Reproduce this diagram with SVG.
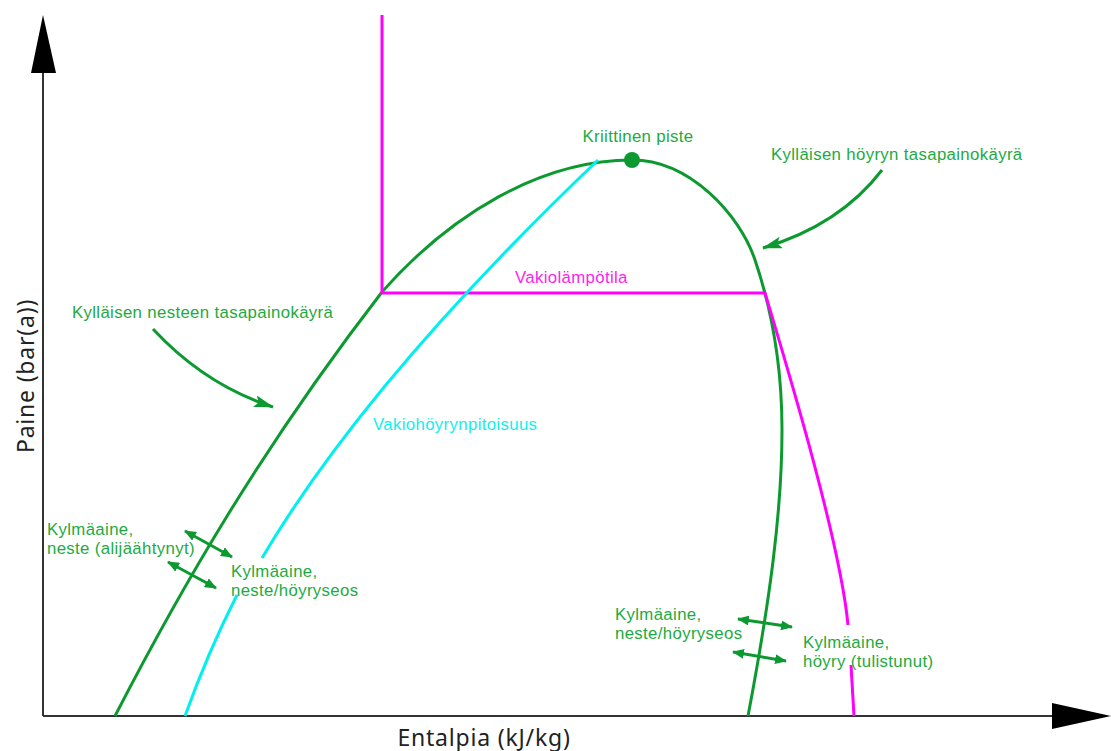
<svg xmlns="http://www.w3.org/2000/svg" width="1111" height="751" viewBox="0 0 1111 751">
<style>
.g{fill:none;stroke:#0c9a30;stroke-width:3}
.m{fill:none;stroke:#ff00ff;stroke-width:3}
.c{fill:none;stroke:#00f0f0;stroke-width:3}
.ax{fill:none;stroke:#333;stroke-width:2}
.t{font-family:"Liberation Sans",Arial,sans-serif;font-size:16.8px;letter-spacing:0.35px}
.tg{fill:#1daa40}
.tm{fill:#ff22ee}
.tc{fill:#11eeee}
.axl{font-family:"Noto Sans","Open Sans",sans-serif;font-size:23px;fill:#222;letter-spacing:0.8px}
</style>
<defs>
<marker id="ah" markerUnits="userSpaceOnUse" viewBox="0 0 12 10" refX="11" refY="5" markerWidth="12" markerHeight="10" orient="auto-start-reverse">
<path d="M0,0 L12,5 L0,10 Z" fill="#0c9a30"/>
</marker>
<marker id="ahl" markerUnits="userSpaceOnUse" viewBox="0 0 20 12" refX="19" refY="6" markerWidth="20" markerHeight="12" orient="auto">
<path d="M0,0 L20,6 L0,12 L4,6 Z" fill="#0c9a30"/>
</marker>
</defs>
<rect width="1111" height="751" fill="#fff"/>
<g id="axes">
<line class="ax" x1="43" y1="716" x2="43" y2="72"/>
<path d="M43,15 L56,73 L31,73 Z" fill="#000"/>
<line class="ax" x1="43" y1="716" x2="1053" y2="716"/>
<path d="M1111,716 L1052,703 L1052,729 Z" fill="#000"/>
<text class="axl" x="484" y="746" text-anchor="middle">Entalpia (kJ/kg)</text>
<text class="axl" transform="translate(34,376) rotate(-90)" text-anchor="middle">Paine (bar(a))</text>
</g>
<g id="connectors">
<path id="sat-liquid" class="g" d="M115,716 C180,590 260,450 382,292 C450,215 540,160 632,160"/>
<path id="sat-vapor" class="g" d="M632,160 C690,160 740,215 755,260 C772,310 782,370 782,430 C782,510 770,600 748,716"/>
<path id="isotherm" class="m" d="M382,15 L382,293 L765,293 C785,360 840,540 848,625"/>
<path class="m" d="M851,665 L854,716"/>
<path id="quality" class="c" d="M262,558 C320,460 420,330 598,160"/>
<path class="c" d="M185,716 Q208,652 237,595"/>
<path class="g" d="M882,170 Q840,225 763,248" marker-end="url(#ahl)"/>
<path class="g" d="M153,329 Q205,385 273,407" marker-end="url(#ahl)"/>
<line class="g" x1="185" y1="531" x2="232" y2="557" marker-start="url(#ah)" marker-end="url(#ah)"/>
<line class="g" x1="168" y1="562" x2="216" y2="588" marker-start="url(#ah)" marker-end="url(#ah)"/>
<line class="g" x1="738" y1="619" x2="792" y2="627" marker-start="url(#ah)" marker-end="url(#ah)"/>
<line class="g" x1="733" y1="652" x2="786" y2="661" marker-start="url(#ah)" marker-end="url(#ah)"/>
</g>
<g id="critical-point">
<circle cx="632" cy="160" r="8" fill="#0c9a30"/>
<text class="t tg" x="638" y="142" text-anchor="middle">Kriittinen piste</text>
</g>
<g id="label-vapor">
<text class="t tg" x="771" y="160">Kylläisen höyryn tasapainokäyrä</text>
</g>
<g id="label-liquid">
<text class="t tg" x="72" y="318">Kylläisen nesteen tasapainokäyrä</text>
</g>
<g id="label-isotherm">
<text class="t tm" x="515" y="283">Vakiolämpötila</text>
</g>
<g id="label-quality">
<text class="t tc" x="373" y="430">Vakiohöyrynpitoisuus</text>
</g>
<g id="label-subcooled">
<text class="t tg" x="47" y="535">Kylmäaine,<tspan x="47" dy="19">neste (alijäähtynyt)</tspan></text>
</g>
<g id="label-mix-left">
<text class="t tg" x="231" y="577">Kylmäaine,<tspan x="231" dy="19">neste/höyryseos</tspan></text>
</g>
<g id="label-mix-right">
<text class="t tg" x="615" y="620">Kylmäaine,<tspan x="615" dy="19">neste/höyryseos</tspan></text>
</g>
<g id="label-superheated">
<text class="t tg" x="803" y="648">Kylmäaine,<tspan x="803" dy="19">höyry (tulistunut)</tspan></text>
</g>
</svg>
